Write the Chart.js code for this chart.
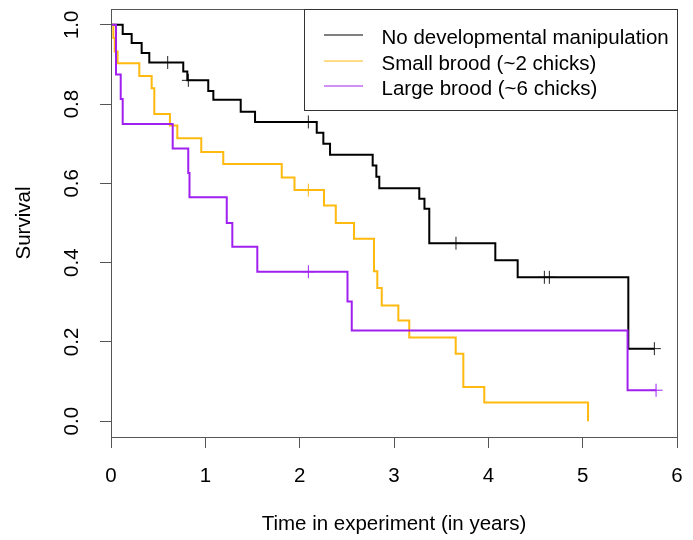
<!DOCTYPE html>
<html><head><meta charset="utf-8">
<script src="https://cdn.jsdelivr.net/npm/chart.js@4/dist/chart.umd.min.js"></script>
<style>html,body{margin:0;padding:0;background:#fff;}canvas{display:block;}</style>
</head><body>
<canvas id="c" width="693" height="540"></canvas>
<script>
const seriesNames = ['No developmental manipulation', 'Small brood (~2 chicks)', 'Large brood (~6 chicks)'];
const seriesColors = ['#000000', '#FFB90F', '#A020F0'];

const noManipTimes = [0, 0.124, 0.219, 0.325, 0.406, 0.766, 0.809, 1.031, 1.085, 1.375, 1.527, 2.181, 2.251, 2.322, 2.774, 2.813, 2.844, 3.268, 3.323, 3.374, 4.074, 4.311, 5.484, 5.76];
const noManipSurv  = [1.0, 0.977, 0.954, 0.929, 0.905, 0.882, 0.860, 0.833, 0.811, 0.781, 0.755, 0.728, 0.700, 0.672, 0.645, 0.617, 0.588, 0.561, 0.536, 0.449, 0.406, 0.363, 0.183, 0.183];
const noManipCensorTimes = [0.601, 0.82, 2.092, 3.657, 4.594, 4.647, 5.76];
const noManipCensorSurv  = [0.905, 0.860, 0.755, 0.449, 0.363, 0.363, 0.183];

const smallTimes = [0, 0.025, 0.04, 0.07, 0.30, 0.431, 0.459, 0.625, 0.703, 0.957, 1.19, 1.81, 1.945, 2.258, 2.383, 2.576, 2.788, 2.823, 2.87, 3.046, 3.162, 3.654, 3.735, 3.957, 5.057];
const smallSurv  = [1.0, 0.967, 0.933, 0.903, 0.871, 0.840, 0.775, 0.746, 0.714, 0.679, 0.649, 0.615, 0.583, 0.544, 0.50, 0.46, 0.378, 0.336, 0.292, 0.254, 0.211, 0.170, 0.086, 0.047, 0.0];
const smallCensorTimes = [2.092];
const smallCensorSurv  = [0.583];

const largeTimes = [0, 0.053, 0.103, 0.124, 0.654, 0.819, 0.832, 1.227, 1.286, 1.551, 2.507, 2.552, 5.476, 5.778];
const largeSurv  = [1.0, 0.875, 0.813, 0.75, 0.688, 0.626, 0.565, 0.50, 0.44, 0.377, 0.302, 0.229, 0.078, 0.078];
const largeCensorTimes = [2.092, 5.778];
const largeCensorSurv  = [0.377, 0.078];

const xTickValues = [0, 1, 2, 3, 4, 5, 6];
const xTickLabels = ['0', '1', '2', '3', '4', '5', '6'];
const yTickValues = [0, 0.2, 0.4, 0.6, 0.8, 1.0];
const yTickLabels = ['0.0', '0.2', '0.4', '0.6', '0.8', '1.0'];

const FONT = "'Liberation Sans', Arial, sans-serif";
const FSIZE = 20.5;
const pts = (xs, ys) => xs.map((x, i) => ({x: x, y: ys[i]}));

function curve(label, xs, ys, color, order) {
  return {type: 'line', label: label, data: pts(xs, ys), borderColor: color, backgroundColor: color,
    borderWidth: 2, stepped: true, pointRadius: 0, fill: false, order: order, tension: 0};
}
function censor(label, xs, ys, color, order) {
  return {type: 'scatter', label: label, data: pts(xs, ys), borderColor: color, backgroundColor: color,
    pointStyle: 'cross', pointRadius: 6.5, pointBorderWidth: 1, showLine: false, order: order};
}

const frameAndLegend = {
  id: 'frameAndLegend',
  afterDraw(chart) {
    const ctx = chart.ctx, a = chart.chartArea;
    ctx.save();
    ctx.strokeStyle = '#555';
    ctx.lineWidth = 1;
    const L = Math.round(a.left) + 0.5, R = Math.round(a.right) + 0.5, T = Math.round(a.top) + 0.5, B = Math.round(a.bottom) + 0.5;
    ctx.strokeRect(L, T, R - L, B - T);
    // legend box
    const lx = 304.5;
    ctx.strokeStyle = '#333';
    ctx.strokeRect(lx, T, R - lx, 110.5 - T);
    const lineYs = [35, 61, 86];
    const baseYs = [44, 70, 95];
    ctx.font = FSIZE + 'px ' + FONT;
    ctx.textBaseline = 'alphabetic';
    ctx.textAlign = 'left';
    for (let i = 0; i < seriesNames.length; i++) {
      ctx.strokeStyle = seriesColors[i];
      ctx.lineWidth = 1;
      ctx.beginPath();
      ctx.moveTo(324, lineYs[i]);
      ctx.lineTo(363, lineYs[i]);
      ctx.stroke();
      ctx.fillStyle = '#000';
      ctx.fillText(seriesNames[i], 381.5, baseYs[i]);
    }
    ctx.restore();
  }
};

new Chart(document.getElementById('c'), {
  data: {
    datasets: [
      curve(seriesNames[2], largeTimes, largeSurv, seriesColors[2], 0),
      censor(seriesNames[2] + ' censored', largeCensorTimes, largeCensorSurv, seriesColors[2], 0),
      curve(seriesNames[1], smallTimes, smallSurv, seriesColors[1], 1),
      censor(seriesNames[1] + ' censored', smallCensorTimes, smallCensorSurv, seriesColors[1], 1),
      curve(seriesNames[0], noManipTimes, noManipSurv, seriesColors[0], 2),
      censor(seriesNames[0] + ' censored', noManipCensorTimes, noManipCensorSurv, '#222', 2)
    ]
  },
  options: {
    responsive: false, animation: false, devicePixelRatio: 1,
    layout: {padding: {top: 9, right: 16, left: 0, bottom: 0}},
    plugins: {legend: {display: false}, tooltip: {enabled: false}},
    scales: {
      x: {
        type: 'linear', min: 0, max: 6,
        afterBuildTicks: s => { s.ticks = xTickValues.map(v => ({value: v})); },
        afterFit: s => { s.height = 103; s.paddingLeft = 0; s.paddingRight = 0; },
        grid: {drawOnChartArea: false, drawTicks: true, tickLength: 11, color: '#555', tickColor: '#555'},
        border: {display: false},
        ticks: {padding: 16, autoSkip: false, maxRotation: 0, color: '#000', font: {family: FONT, size: FSIZE},
          callback: (v, i) => xTickLabels[i]},
        title: {display: true, text: 'Time in experiment (in years)', color: '#000', font: {family: FONT, size: FSIZE}, padding: {top: 0, bottom: 3}}
      },
      y: {
        type: 'linear', min: -0.04, max: 1.04,
        afterBuildTicks: s => { s.ticks = yTickValues.map(v => ({value: v})); },
        afterFit: s => { s.width = 111; s.paddingTop = 0; s.paddingBottom = 0; },
        grid: {drawOnChartArea: false, drawTicks: true, tickLength: 11, color: '#555', tickColor: '#555'},
        border: {display: false},
        ticks: {padding: 13, autoSkip: false, minRotation: 90, maxRotation: 90, crossAlign: 'center', color: '#000', font: {family: FONT, size: FSIZE},
          callback: (v, i) => yTickLabels[i]},
        title: {display: true, text: 'Survival', color: '#000', font: {family: FONT, size: FSIZE}, padding: {top: 12, bottom: 0}}
      }
    }
  },
  plugins: [frameAndLegend]
});
</script>
</body></html>
